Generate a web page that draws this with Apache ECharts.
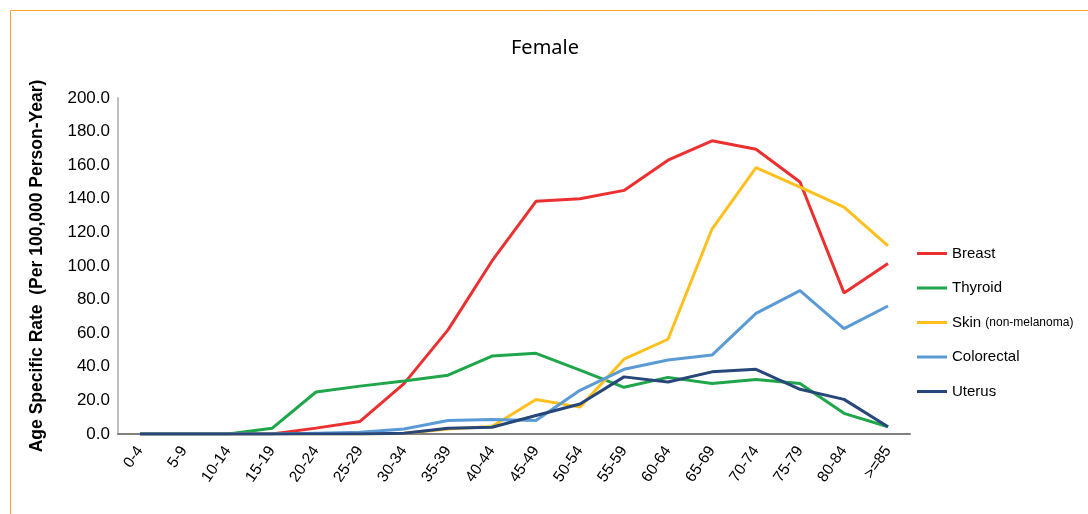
<!DOCTYPE html>
<html>
<head>
<meta charset="utf-8">
<script src="https://cdn.jsdelivr.net/npm/echarts@6/dist/echarts.min.js"></script>
<style>html,body{margin:0;padding:0;background:#fff}#c{width:1088px;height:514px}</style>
</head>
<body>
<div id="c"></div>
<script>
const categories = ['0-4','5-9','10-14','15-19','20-24','25-29','30-34','35-39','40-44','45-49','50-54','55-59','60-64','65-69','70-74','75-79','80-84','>=85'];
const yTicks = [0,20,40,60,80,100,120,140,160,180,200];
const breast     = [0,0,0,0,3.5,7.5,30,62,103,138.5,140,145,163,174.5,169.5,150,84,101.5];
const thyroid    = [0,0,0,3.4,25,28.5,31.5,35,46.4,48,38,27.8,33.7,30,32.5,30,12.3,4.3];
const skin       = [0,0,0,0,0,0,0.5,3,4.5,20.5,16,44.5,56.4,122,158.5,147,135,112];
const colorectal = [0,0,0,0,0.5,1,3,8,8.7,8,26,38.5,44,47,71.8,85.3,62.7,76.2];
const uterus     = [0,0,0,0,0,0,0.5,3.4,4,11,17.9,34,31,37,38.5,26.6,20.6,4.3];

const names = ['Breast','Thyroid','Skin','Colorectal','Uterus'];
const colors = ['#EC3030','#1FA64A','#FFC01E','#5B9BD5','#27467A'];
const dataSets = [breast, thyroid, skin, colorectal, uterus];

const chart = echarts.init(document.getElementById('c'));
chart.setOption({
  animation: false,
  backgroundColor: '#fff',
  graphic: [{
    type: 'rect', shape: {x: 10.5, y: 10.5, width: 1100, height: 520},
    style: {fill: 'none', stroke: '#F7A336', lineWidth: 1}
  }],
  title: {
    text: 'Female', left: 540, top: 33, textAlign: 'center',
    textStyle: {fontFamily: 'Liberation Sans Narrow, Noto Sans', fontWeight: 'normal', fontSize: 20, color: '#000'}
  },
  legend: {
    orient: 'vertical', left: 912, top: 241, itemGap: 19.5,
    itemWidth: 30, itemHeight: 3, icon: 'rect',
    textStyle: {fontFamily: 'Liberation Sans', fontSize: 15, color: '#000',
      rich: {s: {fontSize: 12, fontFamily: 'Liberation Sans', color: '#000'}}},
    formatter: function(n){ return n === 'Skin' ? 'Skin {s|(non-melanoma)}' : n; },
    data: names
  },
  grid: {left: 118, top: 98, width: 792, height: 336},
  xAxis: {
    type: 'category', data: categories, boundaryGap: true,
    axisLine: {lineStyle: {color: '#7f7f7f', width: 2}},
    axisTick: {show: false},
    axisLabel: {rotate: 55, fontFamily: 'Liberation Sans', fontSize: 15.5, color: '#000', margin: 14, interval: 0}
  },
  yAxis: {
    type: 'value', min: 0, max: 200, interval: 20,
    name: 'Age Specific Rate  (Per 100,000 Person-Year)',
    nameLocation: 'middle', nameGap: 72, nameRotate: 90,
    nameTextStyle: {fontFamily: 'Liberation Sans', fontWeight: 'bold', fontSize: 17.5, color: '#000'},
    axisLine: {show: true, lineStyle: {color: '#bfbfbf', width: 2}},
    axisTick: {show: false},
    splitLine: {show: false},
    axisLabel: {fontFamily: 'Liberation Sans', fontSize: 17, color: '#000', margin: 8,
      formatter: function(v){ return yTicks.indexOf(v) >= 0 ? v.toFixed(1) : ''; }}
  },
  series: names.map(function(n, i){
    return {
      name: n, type: 'line', data: dataSets[i], symbol: 'none',
      lineStyle: {color: colors[i], width: 3}, itemStyle: {color: colors[i]}
    };
  })
});
</script>
</body>
</html>
